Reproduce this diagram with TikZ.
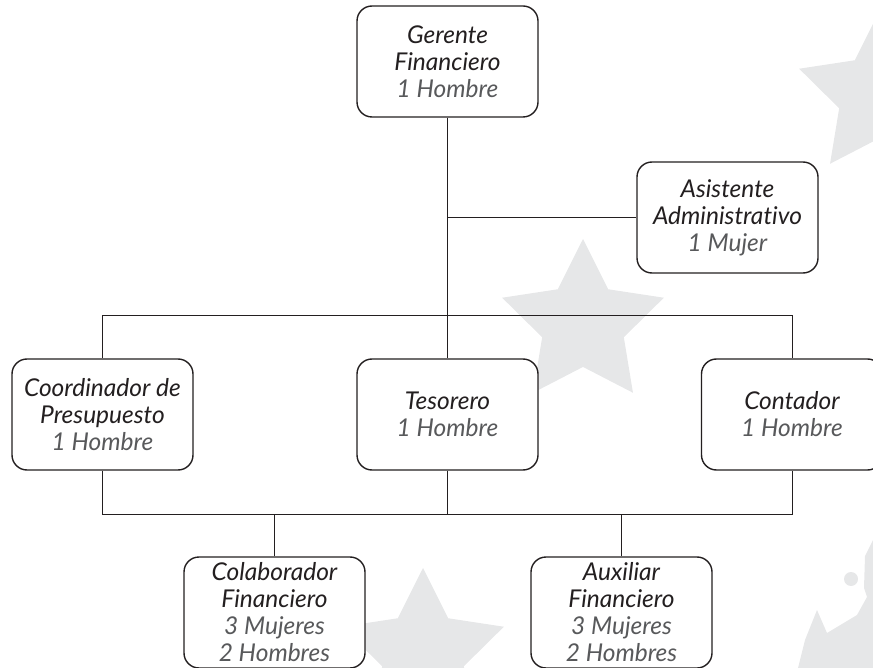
\documentclass[tikz,border=0pt]{standalone}
\usepackage{fontspec}
\setmainfont{Lato}[Ligatures=NoCommon]
\usetikzlibrary{shapes.geometric}
\definecolor{ink}{HTML}{231F20}
\definecolor{soft}{HTML}{58595B}
\definecolor{starc}{HTML}{E6E7E8}
\begin{document}
\begin{tikzpicture}[x=1pt,y=-1pt,
  box/.style={draw=ink, line width=1.4pt, rounded corners=15pt, fill=white,
    minimum width=181pt, minimum height=111pt, align=center,
    font=\fontsize{24.5}{27}\selectfont\itshape, text=ink, inner sep=0pt},
  link/.style={draw=ink, line width=0.9pt},
  deco/.style={star, star points=5, star point ratio=1.98, fill=starc,
    inner sep=0pt, minimum size=170pt}]
\useasboundingbox (0,0) rectangle (873,668);
\clip (0,0) rectangle (873,668);
% background decorations
\node[deco] (s1) at (583,324) {};
\node[deco] (s2) at (880,95) {};
\node[deco] (s3) at (423,653) {};
\fill[starc] (851,579) circle (7);
\fill[starc] (873,540) -- (865,556) -- (864,588) -- (867,597) -- (857,615)
  -- (827,633) -- (817,610) -- (805,640) -- (798,668) -- (873,668) -- cycle;
% coordinates of the buses
\coordinate (b1) at (0,315);
\coordinate (b2) at (0,514);
% boxes
\node[box] (G) at (447.5,61.5) {Gerente\\Financiero\\\textcolor{soft}{1 Hombre}};
\node[box] (A) at (727.5,217.5) {Asistente\\Administrativo\\\textcolor{soft}{1 Mujer}};
\node[box] (C) at (102.5,414.5) {Coordinador de\\Presupuesto\\\textcolor{soft}{1 Hombre}};
\node[box] (T) at (447.5,414.5) {Tesorero\\\textcolor{soft}{1 Hombre}};
\node[box] (K) at (792,414.5) {Contador\\\textcolor{soft}{1 Hombre}};
\node[box] (L) at (274.5,612.5) {Colaborador\\Financiero\\\textcolor{soft}{3 Mujeres}\\\textcolor{soft}{2 Hombres}};
\node[box] (X) at (621.5,612.5) {Auxiliar\\Financiero\\\textcolor{soft}{3 Mujeres}\\\textcolor{soft}{2 Hombres}};
% connectors
\draw[link] (G.south) -- (T.north);
\draw[link] (G.south |- A.west) -- (A.west);
\draw[link] (C.north) -- (C.north |- b1) -- (K.north |- b1) -- (K.north);
\draw[link] (C.south) -- (C.south |- b2) -- (K.south |- b2) -- (K.south);
\draw[link] (T.south) -- (T.south |- b2);
\draw[link] (L.north) -- (L.north |- b2);
\draw[link] (X.north) -- (X.north |- b2);
\end{tikzpicture}
\end{document}
